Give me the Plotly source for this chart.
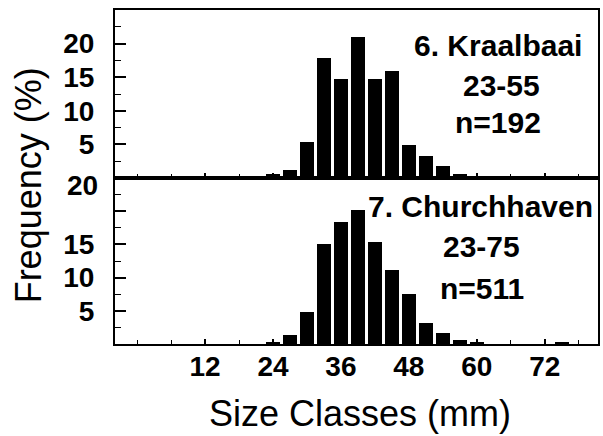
import plotly.graph_objects as go

# Size-class midpoints (mm) and frequency (%) for each site
kraal_sizes = [24, 27, 30, 33, 36, 39, 42, 45, 48, 51, 54, 57]
kraal_freq = [0.6, 1.2, 5.4, 17.9, 14.7, 21.0, 14.7, 15.9, 4.9, 3.3, 1.8, 0.6]

church_sizes = [24, 27, 30, 33, 36, 39, 42, 45, 48, 51, 54, 57, 60, 75]
church_freq = [0.2, 1.4, 4.8, 15.0, 18.4, 20.2, 15.4, 11.2, 7.6, 3.1, 1.7, 0.6, 0.3, 0.2]

x_ticks = [12, 24, 36, 48, 60, 72]
y_ticks = [5, 10, 15, 20]

kraal_lines = ["6. Kraalbaai", "23-55", "n=192"]
church_lines = ["7. Churchhaven", "23-75", "n=511"]

FONT = "Liberation Sans, Arial, Helvetica, sans-serif"
W, H = 603, 436
L, R, T, B = 115, 3, 10, 92
split = 0.497

fig = go.Figure()
fig.add_trace(go.Bar(x=kraal_sizes, y=kraal_freq, width=2.5,
                     marker=dict(color="black", line=dict(width=0)),
                     xaxis="x2", yaxis="y2", showlegend=False))
fig.add_trace(go.Bar(x=church_sizes, y=church_freq, width=2.5,
                     marker=dict(color="black", line=dict(width=0)),
                     xaxis="x", yaxis="y", showlegend=False))

tick_font = dict(family=FONT, size=28, color="black", weight="bold")

xcommon = dict(range=[-3.9, 81.4], showgrid=False, zeroline=False,
               showline=True, linecolor="black", linewidth=2, mirror=True,
               tickmode="array", tickvals=x_ticks, ticks="inside", ticklen=5,
               tickwidth=1.5, tickcolor="black", tickfont=tick_font,
               ticklabelstandoff=-4,
               minor=dict(ticks="inside", ticklen=4, tickwidth=1,
                          tickcolor="black", tickmode="array",
                          tickvals=list(range(0, 81, 6)), showgrid=False))

ycommon = dict(range=[0, 25], showgrid=False, zeroline=False,
               showline=True, linecolor="black", linewidth=2, mirror=True,
               tickmode="array", tickvals=y_ticks, ticks="inside", ticklen=11,
               tickwidth=1.5, tickcolor="black", tickfont=tick_font,
               ticklabelstandoff=13,
               minor=dict(ticks="inside", ticklen=6, tickwidth=1,
                          tickcolor="black", tickmode="array",
                          tickvals=[2.5, 7.5, 12.5, 17.5, 22.5], showgrid=False))

fig.update_layout(
    width=W, height=H,
    margin=dict(l=L, r=R, t=T, b=B, pad=0),
    paper_bgcolor="white", plot_bgcolor="white",
    bargap=0,
    xaxis=dict(domain=[0, 1], anchor="y", **xcommon),
    yaxis=dict(domain=[0, split], anchor="x",
               ticktext=["5", "10", "15", ""], **ycommon),
    xaxis2=dict(domain=[0, 1], anchor="y2", showticklabels=False, **xcommon),
    yaxis2=dict(domain=[split, 1], anchor="x2",
                ticktext=["5", "10", "15", "20"], **ycommon),
)

pw, ph = W - L - R, H - T - B


def px(xp, yp):
    return (xp - L) / pw, (H - B - yp) / ph


ann_font = dict(family=FONT, size=30, color="black", weight="bold")
annotations = []
for text, (cx, cy) in zip(kraal_lines, [(500, 46), (503, 85), (500, 122)]):
    ax, ay = px(cx, cy)
    annotations.append(dict(text=text, x=ax, y=ay, xref="paper", yref="paper",
                             xanchor="center", yanchor="middle",
                             showarrow=False, font=ann_font))
for text, (cx, cy) in zip(church_lines, [(482, 207), (483, 246), (484, 288)]):
    ax, ay = px(cx, cy)
    annotations.append(dict(text=text, x=ax, y=ay, xref="paper", yref="paper",
                             xanchor="center", yanchor="middle",
                             showarrow=False, font=ann_font))

# "20" label of the lower panel sits near its upper edge
ax, ay = px(100, 186)
annotations.append(dict(text="20", x=ax, y=ay, xref="paper", yref="paper",
                        xanchor="right", yanchor="middle", showarrow=False,
                        font=tick_font))

title_font = dict(family=FONT, size=36, color="black")
ax, ay = px(28, 185)
annotations.append(dict(text="Frequency (%)", x=ax, y=ay, xref="paper",
                        yref="paper", xanchor="center", yanchor="middle",
                        textangle=-90, showarrow=False, font=title_font))
ax, ay = px(361, 413)
annotations.append(dict(text="Size Classes (mm)", x=ax, y=ay, xref="paper",
                        yref="paper", xanchor="center", yanchor="middle",
                        showarrow=False, font=title_font))

fig.update_layout(annotations=annotations)

fig.write_html("out.html")
